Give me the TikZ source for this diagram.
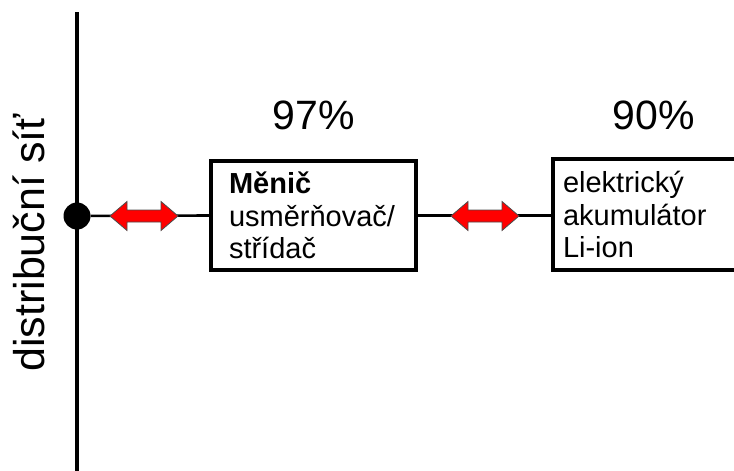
\documentclass[tikz,border=0pt]{standalone}
\usepackage{fontspec}
\setmainfont{Liberation Sans}
\begin{document}
\begin{tikzpicture}[x=1pt,y=1pt,
  bus/.style={line width=4pt},
  wire/.style={line width=2.6pt},
  tapdot/.style={circle, fill=black, inner sep=0pt, minimum size=27pt},
  unitbox/.style={draw, line width=3.3pt, rectangle, align=left,
    inner ysep=0pt, font=\fontsize{29}{32.5}\selectfont},
  efflabel/.style={anchor=base, font=\fontsize{41}{48}\selectfont},
  flowarrow/.style={fill=red, draw=black!70, line width=0.8pt, line join=miter},
  dblarrow/.pic={
    \path[flowarrow] (-34,0) -- (-17,14.5) -- (-17,6) -- (17,6) -- (17,14.5)
      -- (34,0) -- (17,-14.5) -- (17,-6) -- (-17,-6) -- (-17,-14.5) -- cycle;
  }]
  \useasboundingbox (0,0) rectangle (734,-471);

  % grid bus
  \coordinate (gtop) at (77,-12);
  \coordinate (gbot) at (77,-475);
  \draw[bus] (gtop) -- (gbot);
  \node[tapdot] (tap) at (77,-216) {};
  \node[rotate=90, anchor=base, font=\fontsize{43}{50}\selectfont] (gridlabel)
    at (45,-243) {distribuční síť};

  % converter and battery
  \node[unitbox, inner xsep=18pt, text width=169pt, minimum width=205pt,
    minimum height=109pt] (conv) at (313.5,-215.5)
    {\textbf{Měnič}\\usměrňovač/\\střídač};
  \node[unitbox, inner xsep=10pt, text width=174pt, minimum width=194pt,
    minimum height=111pt] (batt) at (650,-214.5)
    {elektrický\\akumulátor\\Li-ion};

  % efficiencies
  \node[efflabel] (effconv) at (313.5,-129) {97\%};
  \node[efflabel] (effbatt) at (653.5,-129) {90\%};

  % connections
  \draw[wire] (tap) -- (conv.west);
  \draw[wire] (conv.east) -- (batt.west |- conv.east);

  % energy flow arrows
  \pic at (144,-216) {dblarrow};
  \pic at (485,-216) {dblarrow};
\end{tikzpicture}
\end{document}
